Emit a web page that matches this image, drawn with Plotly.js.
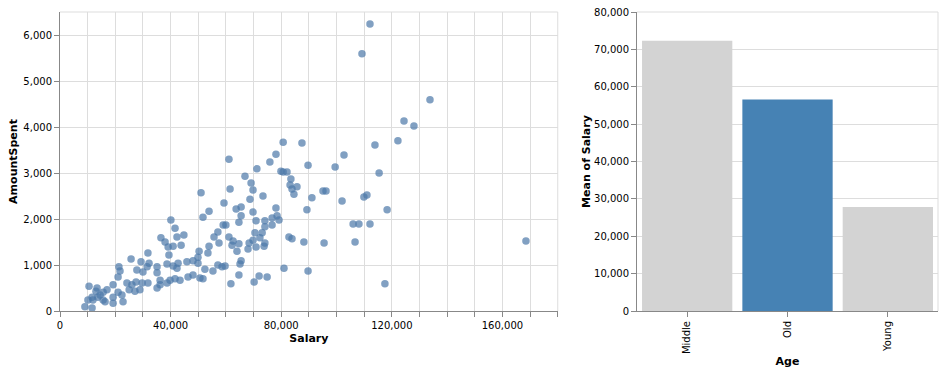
<!DOCTYPE html>
<html>
<head>
<meta charset="utf-8">
<script src="https://cdn.plot.ly/plotly-3.0.1.min.js"></script>
<style>
  html, body { margin: 0; padding: 0; background: #fff; }
  #chart { width: 943px; height: 373px; }
</style>
</head>
<body>
<div id="chart"></div>
<script>
// ---- Data ----
const salary = [
  40100,41600,42300,44800,36500,38000,40900,39100,43800,39400,57100,55700,53900,57500,50300,53500,49900,
  31800,25700,29300,32200,31500,35100,27800,30000,35100,38700,40900,42300,42700,45900,48100,49900,52400,
  55300,48100,50600,51700,46300,43400,41600,39800,38700,36200,36200,35100,31800,29700,27100,26000,24200,
  21300,21700,21000,19200,17000,15600,13400,13700,11900,10500,10100,9000,11600,15600,19200,21000,22400,
  22800,16300,14500,13000,25000,27500,28900,19200,11600,
  59000,60000,64700,70900,74100,79200,74100,76700,73100,70500,72300,69800,74100,73800,70900,68000,68400,
  64700,64000,62200,62600,61100,82800,83900,88200,95500,106000,108100,106700,57100,58600,59700,65500,65100,
  64700,61800,70200,72000,74900,81000,89700,
  61100,66900,71200,69100,69800,61500,51000,68700,59300,63700,65500,69800,65500,53900,51700,
  80700,87500,78100,75900,79900,80700,82100,89700,83500,83200,83900,85700,84600,73400,91100,95100,96200,
  102000,99500,102700,113900,122200,115400,109900,111000,118300,89300,78100,78500,76700,112100,
  112100,109200,133800,124400,128000,168500,117500
];
const amountSpent = [
  1980,1800,1610,1650,1590,1500,1410,1390,1430,1220,1720,1610,1410,1480,1300,1260,1170,
  1260,1130,1070,1040,960,960,890,850,830,1020,980,930,1040,1070,1090,1040,910,
  870,780,720,700,740,670,700,670,610,670,570,500,610,610,430,570,610,
  960,870,740,570,460,410,500,300,240,540,240,90,65,240,300,410,350,
  200,200,350,430,460,630,460,170,300,
  1870,1870,1930,1960,1960,1980,1830,1870,1700,1700,1590,1540,1480,1410,1390,1350,1480,
  1460,1300,1430,1520,1610,1610,1570,1500,1480,1890,1890,1500,1000,960,980,1090,1020,
  780,590,630,760,740,930,870,
  3300,2930,3090,2780,2630,2650,2570,2430,2350,2220,2260,2150,2070,2170,2040,
  3670,3650,3410,3240,3040,3020,3020,3170,2870,2740,2650,2700,2540,2500,2460,2610,2610,
  2390,3130,3390,3610,3700,3000,2480,2520,2200,2200,2240,2070,2020,1890,
  6240,5590,4590,4130,4020,1520,590
];
const ageGroups = ["Middle", "Old", "Young"];
const meanSalary = [72300, 56600, 27800];
const selectedAge = "Old";

const salaryTicks = [0,10000,20000,30000,40000,50000,60000,70000,80000,90000,100000,110000,120000,130000,140000,150000,160000,170000,180000];
const salaryTickLabels = salaryTicks.map(v => (v % 40000 === 0 && v <= 160000) ? v.toLocaleString('en-US') : '');

// ---- Styling ----
const FONT = 'DejaVu Sans, sans-serif';
const barColors = ageGroups.map(a => a === selectedAge ? '#4682b4' : '#d3d3d3');

const axisBase = {
  showline: true, linecolor: '#888', linewidth: 1,
  ticks: 'outside', ticklen: 5, tickcolor: '#888', tickwidth: 1,
  showgrid: true, gridcolor: '#ddd', gridwidth: 1,
  zeroline: false, automargin: false,
  tickfont: { family: FONT, size: 10, color: '#000' },
  fixedrange: true
};

const titleFont = { family: FONT, size: 11, color: '#000', weight: 'bold' };

const traces = [
  {
    type: 'scatter', mode: 'markers',
    x: salary, y: amountSpent,
    xaxis: 'x', yaxis: 'y',
    marker: { size: 7.5, color: '#4c78a8', opacity: 0.7, line: { width: 0 } },
    hoverinfo: 'x+y', showlegend: false
  },
  {
    type: 'bar',
    x: ageGroups, y: meanSalary,
    xaxis: 'x2', yaxis: 'y2',
    marker: { color: barColors, line: { width: 0 } },
    showlegend: false
  }
];

const layout = {
  width: 943, height: 373,
  margin: { l: 60, r: 5, t: 12, b: 62, pad: 0 },
  paper_bgcolor: '#fff', plot_bgcolor: '#fff',
  font: { family: FONT, size: 10, color: '#000' },
  bargap: 0.1,
  showlegend: false,
  xaxis: Object.assign({}, axisBase, {
    domain: [0, 0.5669], range: [0, 180000],
    tickmode: 'array', tickvals: salaryTicks, ticktext: salaryTickLabels,
    title: { text: 'Salary', font: titleFont, standoff: 4 }
  }),
  yaxis: Object.assign({}, axisBase, {
    domain: [0, 1], range: [0, 6500],
    tickmode: 'array',
    tickvals: [0,1000,2000,3000,4000,5000,6000],
    ticktext: ['0','1,000','2,000','3,000','4,000','5,000','6,000'],
    title: { text: 'AmountSpent', font: titleFont, standoff: 3 }
  }),
  xaxis2: Object.assign({}, axisBase, {
    domain: [0.6572, 1], anchor: 'y2',
    type: 'category', range: [-0.5, 2.5],
    showgrid: false, tickangle: -90,
    title: { text: 'Age', font: titleFont, standoff: 4 }
  }),
  yaxis2: Object.assign({}, axisBase, {
    domain: [0, 1], anchor: 'x2', range: [0, 80000],
    tickmode: 'array',
    tickvals: [0,10000,20000,30000,40000,50000,60000,70000,80000],
    ticktext: ['0','10,000','20,000','30,000','40,000','50,000','60,000','70,000','80,000'],
    title: { text: 'Mean of Salary', font: titleFont, standoff: 1 }
  }),
  shapes: [
    { type: 'line', xref: 'x domain', yref: 'y domain', x0: 0, x1: 1, y0: 1, y1: 1, line: { color: '#ddd', width: 1 }, layer: 'below' },
    { type: 'line', xref: 'x domain', yref: 'y domain', x0: 1, x1: 1, y0: 0, y1: 1, line: { color: '#ddd', width: 1 }, layer: 'below' },
    { type: 'line', xref: 'x2 domain', yref: 'y2 domain', x0: 0, x1: 1, y0: 1, y1: 1, line: { color: '#ddd', width: 1 }, layer: 'below' },
    { type: 'line', xref: 'x2 domain', yref: 'y2 domain', x0: 1, x1: 1, y0: 0, y1: 1, line: { color: '#ddd', width: 1 }, layer: 'below' }
  ]
};

Plotly.newPlot('chart', traces, layout, { displayModeBar: false, responsive: false });
</script>
</body>
</html>
